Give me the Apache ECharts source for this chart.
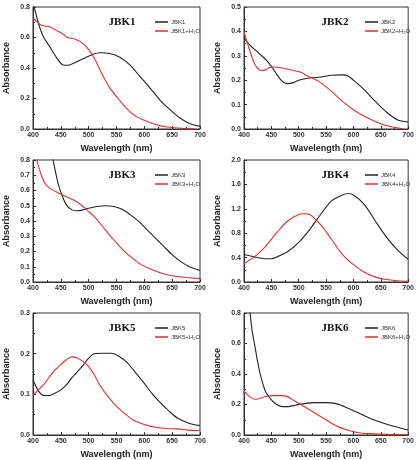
<!DOCTYPE html>
<html>
<head>
  <meta charset="UTF-8">
  <title>JBK UV-Vis</title>
  <script src="https://cdn.jsdelivr.net/npm/echarts@6/dist/echarts.min.js"></script>
  <style>
    html, body { margin: 0; padding: 0; background: #fff; }
    #chart { width: 417px; height: 460px; }
  </style>
</head>
<body>
  <div id="chart"></div>
  <script>
    // 数据 (wavelength nm / absorbance)
    const names = ['JBK1', 'JBK2', 'JBK3', 'JBK4', 'JBK5', 'JBK6'];
    const yMax = [0.8, 0.5, 0.8, 2.0, 0.3, 0.8];
    const yStep = [0.2, 0.1, 0.1, 0.4, 0.1, 0.2];

    const jbk1Wl = [400, 405, 410, 418, 430, 442, 454, 463, 472, 490, 508, 520, 538, 556, 574, 592, 610, 628, 646, 664, 682, 700];
    const jbk1Abs = [0.82, 0.76, 0.69, 0.61, 0.54, 0.47, 0.42, 0.418, 0.43, 0.46, 0.49, 0.50, 0.495, 0.47, 0.42, 0.345, 0.27, 0.19, 0.127, 0.072, 0.035, 0.018];
    const jbk1H2oWl = [400, 415, 430, 440, 455, 462, 475, 490, 500, 510, 520, 530, 540, 555, 570, 585, 600, 620, 640, 660, 680, 690];
    const jbk1H2oAbs = [0.73, 0.68, 0.67, 0.65, 0.62, 0.60, 0.59, 0.56, 0.52, 0.465, 0.39, 0.32, 0.26, 0.19, 0.127, 0.083, 0.057, 0.029, 0.013, 0.007, 0.002, 0.001];

    const jbk2Wl = [400, 410, 420, 430, 440, 450, 460, 470, 480, 490, 500, 520, 540, 560, 580, 590, 600, 620, 640, 660, 680, 700];
    const jbk2Abs = [0.373, 0.346, 0.325, 0.305, 0.284, 0.257, 0.223, 0.195, 0.186, 0.19, 0.2, 0.209, 0.213, 0.22, 0.222, 0.217, 0.2, 0.16, 0.113, 0.07, 0.038, 0.029];
    const jbk2H2oWl = [400, 410, 420, 428, 435, 445, 455, 470, 490, 505, 515, 525, 540, 560, 580, 600, 620, 640, 660, 680, 690];
    const jbk2H2oAbs = [0.40, 0.325, 0.264, 0.243, 0.239, 0.25, 0.254, 0.25, 0.24, 0.232, 0.218, 0.209, 0.19, 0.154, 0.113, 0.079, 0.052, 0.031, 0.014, 0.005, 0.001];

    const jbk3Wl = [400, 420, 430, 436, 445, 452, 460, 470, 480, 490, 500, 515, 530, 545, 560, 575, 590, 605, 620, 635, 650, 665, 680, 700];
    const jbk3Abs = [1.4, 1.08, 0.9, 0.8, 0.647, 0.57, 0.506, 0.473, 0.467, 0.473, 0.484, 0.495, 0.5, 0.495, 0.477, 0.44, 0.397, 0.342, 0.288, 0.233, 0.179, 0.135, 0.102, 0.076];
    const jbk3H2oWl = [400, 407, 415, 420, 425, 435, 445, 455, 470, 480, 490, 500, 510, 520, 530, 545, 560, 575, 590, 610, 630, 650, 670, 700];
    const jbk3H2oAbs = [0.95, 0.8, 0.70, 0.658, 0.63, 0.604, 0.586, 0.567, 0.543, 0.523, 0.495, 0.462, 0.43, 0.386, 0.342, 0.277, 0.216, 0.168, 0.124, 0.087, 0.059, 0.041, 0.031, 0.022];

    const jbk4Wl = [400, 420, 440, 450, 460, 480, 500, 520, 540, 560, 580, 590, 600, 620, 640, 660, 680, 700];
    const jbk4Abs = [0.45, 0.41, 0.38, 0.38, 0.41, 0.50, 0.65, 0.86, 1.107, 1.33, 1.425, 1.45, 1.425, 1.27, 1.0, 0.74, 0.53, 0.37];
    const jbk4H2oWl = [400, 420, 440, 460, 480, 500, 510, 520, 540, 560, 580, 600, 620, 640, 660, 680, 700];
    const jbk4H2oAbs = [0.30, 0.42, 0.59, 0.81, 1.0, 1.107, 1.12, 1.107, 0.94, 0.70, 0.45, 0.285, 0.16, 0.08, 0.04, 0.02, 0.01];

    const jbk5Wl = [400, 410, 420, 430, 440, 450, 460, 470, 480, 490, 500, 510, 525, 540, 555, 570, 585, 600, 615, 630, 645, 660, 680, 700];
    const jbk5Abs = [0.136, 0.108, 0.097, 0.097, 0.103, 0.111, 0.123, 0.141, 0.156, 0.172, 0.189, 0.2, 0.201, 0.201, 0.193, 0.177, 0.152, 0.127, 0.1, 0.078, 0.058, 0.041, 0.029, 0.023];
    const jbk5H2oWl = [400, 410, 420, 430, 440, 450, 460, 470, 480, 490, 500, 510, 520, 530, 545, 560, 580, 600, 620, 640, 660, 680, 700];
    const jbk5H2oAbs = [0.099, 0.111, 0.125, 0.144, 0.16, 0.173, 0.185, 0.192, 0.189, 0.181, 0.168, 0.148, 0.123, 0.103, 0.078, 0.058, 0.037, 0.026, 0.019, 0.016, 0.015, 0.012, 0.011];

    const jbk6Wl = [400, 411, 415, 420, 425, 430, 435, 440, 450, 460, 470, 480, 495, 510, 530, 550, 570, 590, 610, 630, 650, 670, 700];
    const jbk6Abs = [1.1, 0.8, 0.68, 0.58, 0.48, 0.394, 0.33, 0.28, 0.23, 0.2, 0.186, 0.186, 0.197, 0.206, 0.212, 0.212, 0.204, 0.175, 0.143, 0.11, 0.083, 0.061, 0.033];
    const jbk6H2oWl = [400, 410, 420, 430, 440, 455, 470, 480, 490, 500, 515, 530, 545, 560, 575, 590, 610, 630, 660, 700];
    const jbk6H2oAbs = [0.289, 0.252, 0.234, 0.241, 0.252, 0.258, 0.258, 0.25, 0.23, 0.208, 0.175, 0.143, 0.11, 0.077, 0.05, 0.031, 0.015, 0.009, 0.004, 0.002];

    const curves = [
      [jbk1Wl, jbk1Abs, jbk1H2oWl, jbk1H2oAbs],
      [jbk2Wl, jbk2Abs, jbk2H2oWl, jbk2H2oAbs],
      [jbk3Wl, jbk3Abs, jbk3H2oWl, jbk3H2oAbs],
      [jbk4Wl, jbk4Abs, jbk4H2oWl, jbk4H2oAbs],
      [jbk5Wl, jbk5Abs, jbk5H2oWl, jbk5H2oAbs],
      [jbk6Wl, jbk6Abs, jbk6H2oWl, jbk6H2oAbs]
    ];

    // 布局
    const colLeft = [33, 244];
    const rowTop = [7, 160, 313];
    const gridW = [167, 166];
    const gridH = 122;

    const zip = (xs, ys) => xs.map((x, i) => [x, ys[i]]);
    const axisFont = { fontFamily: 'Liberation Sans, Arial, sans-serif', fontSize: 7, fontWeight: 'bold', color: '#333' };
    const nameFont = { fontFamily: 'Liberation Sans, Arial, sans-serif', fontSize: 9, fontWeight: 'bold', color: '#222' };

    const grid = [], xAxis = [], yAxis = [], series = [], title = [], legend = [];

    names.forEach((name, i) => {
      const col = i % 2, row = Math.floor(i / 2);
      const left = colLeft[col], top = rowTop[row];
      grid.push({ left: left, top: top, width: gridW[col], height: gridH, show: true, borderColor: '#333', borderWidth: 1 });
      xAxis.push({
        gridIndex: i, type: 'value', min: 400, max: 700, interval: 50,
        name: 'Wavelength (nm)', nameLocation: 'middle', nameGap: 15, nameTextStyle: nameFont,
        axisLine: { show: true, onZero: false, lineStyle: { color: '#333' } },
        axisTick: { inside: true, length: 3, lineStyle: { color: '#333' } },
        minorTick: { show: true, splitNumber: 2, length: 2, lineStyle: { color: '#333' } },
        axisLabel: Object.assign({ margin: 3 }, axisFont),
        splitLine: { show: false }
      });
      yAxis.push({
        gridIndex: i, type: 'value', min: 0, max: yMax[i], interval: yStep[i],
        name: 'Absorbance', nameLocation: 'middle', nameGap: 22, nameRotate: 90, nameTextStyle: nameFont,
        axisLine: { show: true, onZero: false, lineStyle: { color: '#333' } },
        axisTick: { inside: true, length: 3, lineStyle: { color: '#333' } },
        minorTick: { show: true, splitNumber: 2, length: 2, lineStyle: { color: '#333' } },
        axisLabel: Object.assign({ margin: 3, formatter: v => v.toFixed(1) }, axisFont),
        splitLine: { show: false }
      });
      const c = curves[i];
      series.push({
        name: name, type: 'line', xAxisIndex: i, yAxisIndex: i,
        data: zip(c[0], c[1]), smooth: 0.3, showSymbol: false, clip: true,
        lineStyle: { color: '#222', width: 1.1 }, itemStyle: { color: '#222' }
      });
      series.push({
        name: name + '+H₂O', type: 'line', xAxisIndex: i, yAxisIndex: i,
        data: zip(c[2], c[3]), smooth: 0.3, showSymbol: false, clip: true,
        lineStyle: { color: '#e2302c', width: 1.1 }, itemStyle: { color: '#e2302c' }
      });
      title.push({
        text: name, left: left + (col === 0 ? 84 : 86), top: top + 5, textAlign: 'center',
        textStyle: { fontFamily: 'Liberation Serif, Times New Roman, serif', fontSize: 11, fontWeight: 'bold', color: '#111' }
      });
      legend.push({
        data: [name, name + '+H₂O'], orient: 'vertical', left: left + (col === 0 ? 117 : 116), top: top + 7,
        icon: 'rect', itemWidth: 13, itemHeight: 1.5, itemGap: 3,
        textStyle: { fontFamily: 'Liberation Sans, Arial, sans-serif', fontSize: 6, color: '#333', padding: [0, 0, 0, -2] }
      });
    });

    const chart = echarts.init(document.getElementById('chart'));
    chart.setOption({
      animation: false,
      backgroundColor: '#fff',
      title: title,
      legend: legend,
      grid: grid,
      xAxis: xAxis,
      yAxis: yAxis,
      series: series
    });
  </script>
</body>
</html>
